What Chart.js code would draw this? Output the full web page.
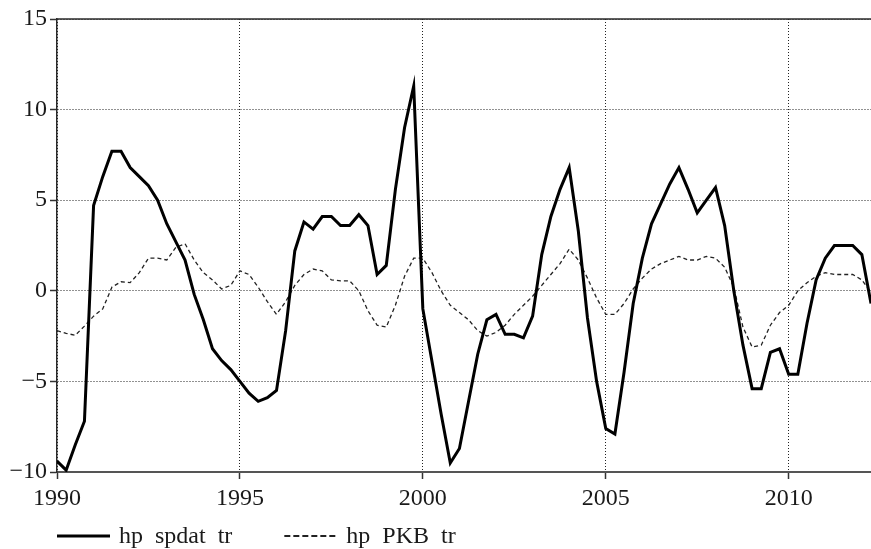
<!DOCTYPE html>
<html>
<head>
<meta charset="utf-8">
<script src="https://cdn.jsdelivr.net/npm/chart.js@4.4.1/dist/chart.umd.min.js"></script>
<style>
  html, body { margin: 0; padding: 0; background: #fff; }
  #wrap { width: 871px; height: 549px; }
</style>
</head>
<body>
<div id="wrap"><canvas id="c" width="871" height="549"></canvas></div>
<script>
// Quarterly series, 1990Q1 .. 2012Q2
const startYear = 1990;
const seriesLabels = ['hp  spdat  tr', 'hp  PKB  tr'];

const spdat = [
  -9.4, -9.9, -8.5, -7.2, 4.7, 6.3, 7.7, 7.7, 6.8, 6.3,
  5.8, 5.0, 3.7, 2.7, 1.7, -0.2, -1.6, -3.2, -3.85, -4.35,
  -5.0, -5.65, -6.1, -5.9, -5.5, -2.2, 2.2, 3.8, 3.4, 4.1,
  4.1, 3.6, 3.6, 4.2, 3.6, 0.9, 1.4, 5.6, 9.0, 11.3,
  -1.0, -3.9, -6.8, -9.5, -8.7, -6.1, -3.5, -1.6, -1.3, -2.4,
  -2.4, -2.6, -1.4, 2.0, 4.1, 5.6, 6.8, 3.3, -1.5, -5.0,
  -7.6, -7.9, -4.5, -0.7, 1.8, 3.7, 4.8, 5.9, 6.8, 5.6,
  4.3, 5.0, 5.7, 3.6, 0.0, -3.0, -5.4, -5.4, -3.4, -3.2,
  -4.6, -4.6, -1.8, 0.6, 1.8, 2.5, 2.5, 2.5, 2.0, -0.7
];

const pkb = [
  -2.2, -2.35, -2.45, -1.95, -1.4, -1.0, 0.2, 0.5, 0.45, 1.0,
  1.8, 1.8, 1.7, 2.4, 2.6, 1.7, 1.0, 0.6, 0.1, 0.3,
  1.1, 0.9, 0.2, -0.6, -1.3, -0.6, 0.3, 0.9, 1.2, 1.1,
  0.6, 0.55, 0.55, 0.0, -1.1, -1.9, -2.0, -0.8, 0.8, 1.8,
  1.8, 1.0, 0.0, -0.8, -1.2, -1.6, -2.2, -2.5, -2.3, -1.9,
  -1.3, -0.8, -0.3, 0.3, 0.9, 1.5, 2.3, 1.7, 0.7, -0.4,
  -1.3, -1.3, -0.7, 0.1, 0.7, 1.2, 1.5, 1.7, 1.9, 1.7,
  1.7, 1.9, 1.8, 1.3, 0.2, -2.0, -3.1, -3.0, -1.9, -1.2,
  -0.8, 0.0, 0.45, 0.8, 1.0, 0.9, 0.9, 0.9, 0.6, -0.1
];

const yTicks = [-10, -5, 0, 5, 10, 15];
const xTicks = [1990, 1995, 2000, 2005, 2010];

// time index of each observation (year + quarter fraction)
const periods = spdat.map((_, i) => startYear + i / 4);
const toPoints = vals => vals.map((v, i) => ({ x: periods[i], y: v }));

const FONT = 'Liberation Serif';
const INK = '#1a1a1a';

// solid frame line along the top of the plot
const topFrame = {
  id: 'topFrame',
  afterDraw(chart) {
    const { ctx, chartArea: a } = chart;
    ctx.save();
    ctx.strokeStyle = '#2a2a2a';
    ctx.lineWidth = 1.5;
    ctx.beginPath();
    ctx.moveTo(a.left, a.top);
    ctx.lineTo(a.right, a.top);
    ctx.stroke();
    ctx.restore();
  }
};

// series key under the x axis
const seriesKey = {
  id: 'seriesKey',
  afterDraw(chart, args, opts) {
    const { ctx, chartArea: a } = chart;
    ctx.save();
    ctx.font = opts.size + 'px "' + FONT + '"';
    ctx.textBaseline = 'middle';
    ctx.fillStyle = INK;
    let x = a.left;
    chart.data.datasets.forEach((ds, i) => {
      const st = opts.styles[i];
      ctx.beginPath();
      ctx.setLineDash(st.dash);
      ctx.lineWidth = st.width;
      ctx.strokeStyle = ds.borderColor;
      ctx.moveTo(x, opts.y);
      ctx.lineTo(x + opts.lineLength, opts.y);
      ctx.stroke();
      ctx.setLineDash([]);
      const tx = x + opts.lineLength + opts.textGap;
      ctx.fillText(ds.label, tx, opts.y + 1);
      x = tx + ctx.measureText(ds.label).width + opts.itemGap;
    });
    ctx.restore();
  }
};

new Chart(document.getElementById('c'), {
  type: 'line',
  data: {
    datasets: [
      {
        label: seriesLabels[0],
        data: toPoints(spdat),
        borderColor: '#000',
        borderWidth: 3,
        borderJoinStyle: 'miter',
        pointRadius: 0,
        tension: 0,
        fill: false
      },
      {
        label: seriesLabels[1],
        data: toPoints(pkb),
        borderColor: '#222',
        borderWidth: 1.3,
        borderDash: [4, 3],
        pointRadius: 0,
        tension: 0,
        fill: false
      }
    ]
  },
  options: {
    responsive: false,
    animation: false,
    events: [],
    layout: { padding: { top: 19, left: 0, right: 0, bottom: 0 } },
    plugins: {
      legend: { display: false },
      tooltip: { enabled: false },
      seriesKey: {
        y: 536, size: 24, lineLength: 53, textGap: 9, itemGap: 52,
        styles: [ { dash: [], width: 3 }, { dash: [6, 3], width: 2 } ]
      }
    },
    scales: {
      x: {
        type: 'linear',
        min: 1990,
        max: 2012.25,
        afterBuildTicks: s => { s.ticks = xTicks.map(v => ({ value: v })); },
        afterFit: s => { s.height = 77; },
        ticks: {
          font: { family: FONT, size: 24 },
          color: INK,
          padding: 5,
          maxRotation: 0,
          autoSkip: false,
          callback: v => String(v)
        },
        grid: {
          color: '#222',
          lineWidth: 1,
          tickLength: 7,
          tickColor: '#333',
          tickWidth: 1.5
        },
        border: { display: true, color: '#555', width: 2, dash: [1, 2] }
      },
      y: {
        min: -10,
        max: 15,
        afterBuildTicks: s => { s.ticks = yTicks.map(v => ({ value: v })); },
        afterFit: s => { s.width = 57; },
        ticks: {
          font: { family: FONT, size: 24 },
          color: INK,
          padding: 3,
          autoSkip: false,
          callback: v => (v < 0 ? '\u2212' + Math.abs(v) : String(v))
        },
        grid: {
          color: '#222',
          lineWidth: 1,
          tickLength: 7,
          tickColor: '#333',
          tickWidth: 1.5
        },
        border: { display: true, color: '#2a2a2a', width: 1.5, dash: [1, 2] }
      }
    }
  },
  plugins: [topFrame, seriesKey]
});
</script>
</body>
</html>
